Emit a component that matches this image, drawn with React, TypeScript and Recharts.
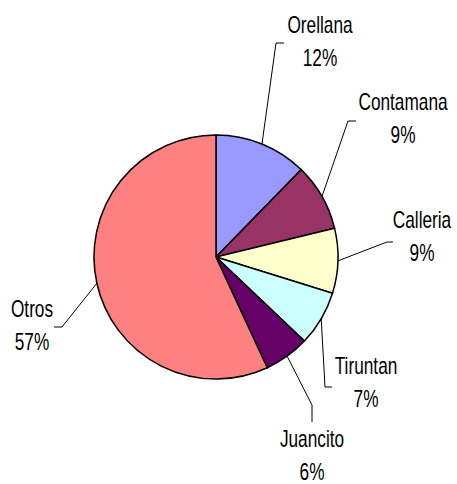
import { PieChart, Pie, Cell } from "recharts";

const names = ["Orellana", "Contamana", "Calleria", "Tiruntan", "Juancito", "Otros"];
const shares = [12.3, 8.9, 8.6, 7.3, 6.0, 56.9];
const colors = ["#9999FF", "#993366", "#FFFFCC", "#CCFFFF", "#660066", "#FF8080"];

// where each label sits, relative to the pie centre (Excel-style dragged labels)
// tx/ty: text centre + first baseline, ex/ey: leader elbow, kx/ky: tick end
const labelSpots = [
  { tx: 104, ty: -224, ex: 60, ey: -214, kx: 68, ky: -214 },
  { tx: 187, ty: -147, ex: 132, ey: -136, kx: 140, ky: -136 },
  { tx: 206, ty: -29, ex: 171, ey: -15, kx: 177, ky: -15 },
  { tx: 150, ty: 117, ex: 109, ey: 130, kx: 116, ky: 130 },
  { tx: 96, ty: 190, ex: 96, ey: 148, kx: 96, ky: 165 },
  { tx: -184, ty: 60, ex: -154, ey: 70, kx: -162, ky: 70 },
];

const data = names.map((name, i) => ({ name, value: shares[i] }));

const RADIAN = Math.PI / 180;
const FONT = "'Liberation Sans', Arial, sans-serif";

function renderLabel(props: any) {
  const { cx, cy, midAngle, outerRadius, index, name, percent } = props;
  const spot = labelSpots[index];
  const sx = cx + outerRadius * Math.cos(-midAngle * RADIAN);
  const sy = cy + outerRadius * Math.sin(-midAngle * RADIAN);
  const tx = cx + spot.tx;
  const ty = cy + spot.ty;
  return (
    <g>
      <polyline
        points={`${sx},${sy} ${cx + spot.ex},${cy + spot.ey} ${cx + spot.kx},${cy + spot.ky}`}
        fill="none"
        stroke="#000"
        strokeWidth={1}
      />
      <g transform={`translate(${tx},${ty}) scale(0.75,1)`}>
        <text x={0} y={0} textAnchor="middle" fontFamily={FONT} fontSize={23} fill="#000">
          {name}
        </text>
        <text x={0} y={33} textAnchor="middle" fontFamily={FONT} fontSize={23} fill="#000">
          {Math.round(percent * 100)}%
        </text>
      </g>
    </g>
  );
}

export default function App() {
  return (
    <div style={{ width: 457, height: 484, background: "#fff" }}>
      <style>{"body{margin:0}"}</style>
      <PieChart width={457} height={484} margin={{ top: 0, right: 0, bottom: 0, left: 0 }}>
        <Pie
          data={data}
          dataKey="value"
          nameKey="name"
          cx={216}
          cy={257}
          outerRadius={122}
          startAngle={90}
          endAngle={-270}
          stroke="#000"
          strokeWidth={1.5}
          label={renderLabel}
          labelLine={false}
          isAnimationActive={false}
        >
          {data.map((d, i) => (
            <Cell key={d.name} fill={colors[i]} />
          ))}
        </Pie>
      </PieChart>
    </div>
  );
}
